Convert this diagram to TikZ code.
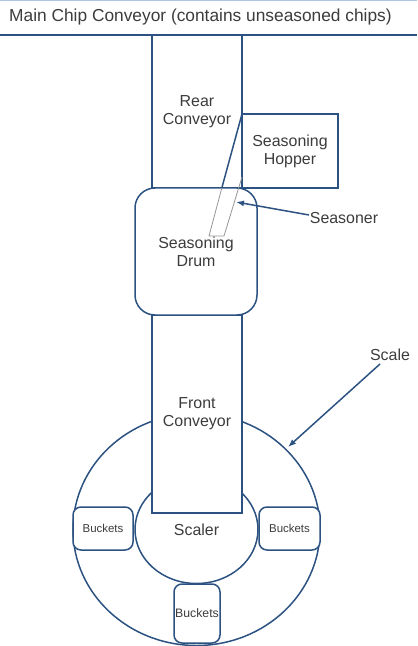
\documentclass[tikz,border=0pt]{standalone}
\usepackage{fontspec}
\setmainfont{Liberation Sans}
\usetikzlibrary{arrows.meta,shapes.geometric}
\definecolor{edge}{RGB}{44,82,130}
\definecolor{ink}{RGB}{60,60,60}
\definecolor{rule}{RGB}{170,200,225}
\definecolor{feed}{RGB}{150,150,150}
\begin{document}
\begin{tikzpicture}[x=1bp,y=-1bp,
  part/.style={draw=edge,line width=1.5bp,fill=white,inner sep=0pt,
    align=center,text=ink,font=\fontsize{16}{18}\selectfont},
  bucket/.style={part,rounded corners=8bp,font=\fontsize{11.5}{13}\selectfont},
  label/.style={text=ink,font=\fontsize{16}{18}\selectfont,inner sep=0pt},
  pointer/.style={draw=edge,line width=1.5bp,-{Latex[length=8bp,width=6bp]}}]
\useasboundingbox (0,0) rectangle (417,646);

% header strip
\draw[rule,line width=1bp] (0,0.5) -- (417,0.5);
\node[label,anchor=west,font=\fontsize{17.4}{20}\selectfont] (title) at (9,17) {Main Chip Conveyor (contains unseasoned chips)};
\coordinate (railL) at (0,35);
\coordinate (railR) at (417,35);
\draw[edge,line width=1.5bp] (railL) -- (railR);

% scale ring and scaler
\node[part,shape=ellipse,minimum width=247bp,minimum height=232bp] (scale) at (196.5,529.5) {};
\node[part,shape=ellipse,minimum width=123bp,minimum height=108bp] (scaler) at (196.5,529.5) {Scaler};

% conveyors, drum and hopper
\node[part,minimum width=90bp,minimum height=153bp] (rear) at (197,111.5) {Rear\\Conveyor};
\node[part,minimum width=90bp,minimum height=198bp] (front) at (197,414) {Front\\Conveyor};
\node[part,rounded corners=20bp,minimum width=122bp,minimum height=127bp] (drum) at (196,251.5) {Seasoning\\Drum};
\node[part,minimum width=96bp,minimum height=74bp] (hopper) at (290,151) {Seasoning\\Hopper};

% buckets
\node[bucket,minimum width=60bp,minimum height=43bp] (bucketL) at (103,528.5) {Buckets};
\node[bucket,minimum width=61bp,minimum height=43bp] (bucketR) at (289.5,528.5) {Buckets};
\node[bucket,minimum width=46bp,minimum height=59bp,font=\fontsize{12.3}{14}\selectfont] (bucketB) at (197,613.5) {Buckets};

% seasoner chute
\coordinate (chuteTL) at (242,114);
\coordinate (chuteTR) at (242,177);
\coordinate (chuteBL) at (209,236);
\coordinate (chuteBR) at (224,236);
\coordinate (chuteMid) at (221.8,188);
\draw[feed,line width=0.8bp] (chuteMid) -- (chuteBL) -- (chuteBR) -- (chuteTR);
\draw[edge,line width=1.5bp] (chuteTL) -- (chuteMid);

% callouts
\node[label] (seasonerlbl) at (344,218) {Seasoner};
\coordinate (seasonerFrom) at (309,215);
\coordinate (seasonerTip) at (236,202);
\draw[pointer] (seasonerFrom) -- (seasonerTip);

\node[label] (scalelbl) at (390,355) {Scale};
\coordinate (scaleFrom) at (380,364);
\coordinate (scaleTip) at (288,447);
\draw[pointer] (scaleFrom) -- (scaleTip);
\end{tikzpicture}
\end{document}
